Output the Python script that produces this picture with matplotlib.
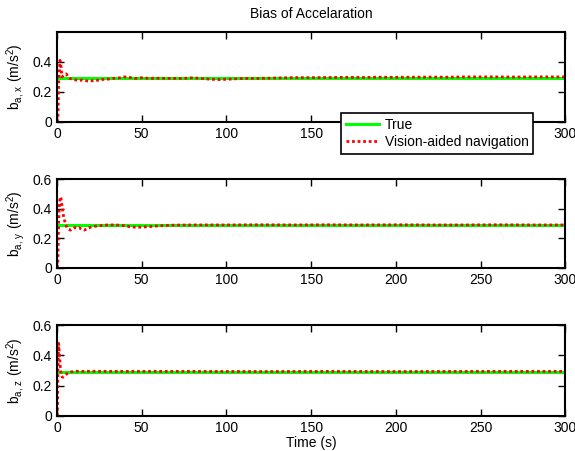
import numpy as np
import matplotlib
matplotlib.use('Agg')
import matplotlib.pyplot as plt

plt.rcParams['font.family'] = ['Liberation Sans', 'DejaVu Sans']
plt.rcParams['font.size'] = 10
plt.rcParams['mathtext.fontset'] = 'custom'
plt.rcParams['mathtext.rm'] = 'Liberation Sans'
plt.rcParams['mathtext.it'] = 'Liberation Sans'

#%% data
true_bias = 0.29

t_x = [0, 0.6, 1.0, 1.8, 2.4, 3, 4, 5.5, 6.5, 7.5, 9, 11, 13, 15, 17, 19, 21, 23, 25, 27, 30,
       33, 36, 40, 43, 46, 50, 55, 60, 65, 70, 75, 80, 85, 90, 95, 100, 105, 110, 120,
       130, 140, 150, 160, 170, 180, 190, 200, 210, 220, 230, 240, 250, 260, 270, 280, 290, 300]
b_x = [0, 0.02, 0.25, 0.41, 0.37, 0.30, 0.31, 0.32, 0.30, 0.29, 0.285, 0.28, 0.275, 0.28, 0.275,
       0.27, 0.275, 0.28, 0.275, 0.283, 0.285, 0.29, 0.292, 0.30, 0.296, 0.29, 0.294, 0.29, 0.291,
       0.29, 0.29, 0.29, 0.294, 0.29, 0.285, 0.282, 0.284, 0.287, 0.29, 0.29, 0.293, 0.295, 0.295,
       0.296, 0.297, 0.296, 0.298, 0.297, 0.298, 0.299, 0.298, 0.3, 0.3, 0.3, 0.299, 0.3, 0.3, 0.3]

t_y = [0, 0.5, 1.0, 1.5, 2.0, 2.4, 3.0, 3.5, 4.0, 5, 6, 7, 8, 9, 10, 11, 12, 13, 14, 15, 16,
       17, 18, 20, 22, 25, 28, 30, 35, 40, 43, 46, 50, 55, 60, 65, 70, 80, 90, 100, 120,
       140, 160, 180, 200, 220, 240, 260, 280, 300]
b_y = [0, 0.02, 0.30, 0.44, 0.48, 0.47, 0.42, 0.38, 0.34, 0.30, 0.27, 0.26, 0.255, 0.265, 0.27,
       0.272, 0.268, 0.272, 0.265, 0.258, 0.255, 0.26, 0.266, 0.275, 0.28, 0.285, 0.288, 0.29,
       0.29, 0.285, 0.278, 0.275, 0.275, 0.279, 0.284, 0.287, 0.289, 0.29, 0.29, 0.29, 0.291,
       0.29, 0.291, 0.29, 0.291, 0.29, 0.29, 0.291, 0.29, 0.29]

t_z = [0, 0.3, 0.6, 1.0, 1.4, 1.8, 2.2, 2.6, 3.0, 3.5, 4, 5, 6, 7, 8, 10, 12, 15, 20, 30, 50,
       80, 120, 160, 200, 250, 300]
b_z = [0, 0.02, 0.30, 0.48, 0.42, 0.35, 0.30, 0.27, 0.258, 0.255, 0.26, 0.27, 0.28, 0.286, 0.29,
       0.293, 0.295, 0.294, 0.295, 0.294, 0.294, 0.294, 0.293, 0.294, 0.293, 0.294, 0.294]

series = [(t_x, b_x, 'x'), (t_y, b_y, 'y'), (t_z, b_z, 'z')]
ax_pos = [[0.099, 0.7295, 0.884, 0.2], [0.099, 0.406, 0.884, 0.197], [0.099, 0.078, 0.884, 0.201]]

#%% plot
fig = plt.figure(figsize=(5.75, 4.51), dpi=100)
axes = []
for (t, b, comp), pos in zip(series, ax_pos):
    ax = fig.add_axes(pos)
    ax.plot([0, 300], [true_bias, true_bias], color=(0, 1, 0), lw=2.2, label='True')
    ax.plot(t, b, color='red', lw=2.0, linestyle=(0, (1, 1)), label='Vision-aided navigation')
    ax.set_xlim(0, 300)
    ax.set_ylim(0, 0.6)
    ax.set_xticks([0, 50, 100, 150, 200, 250, 300])
    ax.set_ylabel('b$_{\\mathrm{a,\\,' + comp + '}}$ (m/s$^2$)')
    ax.tick_params(direction='in', top=True, right=True, length=5, width=1, labelsize=10)
    for s in ax.spines.values():
        s.set_linewidth(1.5)
    axes.append(ax)

axes[0].set_yticks([0, 0.2, 0.4])
axes[0].set_yticklabels(['0', '0.2', '0.4'])
for ax in axes[1:]:
    ax.set_yticks([0, 0.2, 0.4, 0.6])
    ax.set_yticklabels(['0', '0.2', '0.4', '0.6'])

axes[0].set_title('Bias of Accelaration', fontsize=10, pad=10)
axes[2].set_xlabel('Time (s)', labelpad=1)

leg = axes[0].legend(loc='upper left', bbox_to_anchor=(0.593, 0.749), bbox_transform=fig.transFigure,
                     fancybox=False, edgecolor='black', framealpha=1, handlelength=2.4,
                     borderpad=0.35, labelspacing=0.2, handletextpad=0.4, borderaxespad=0)
leg.get_frame().set_linewidth(1.2)

plt.savefig('out.png', dpi=100)
